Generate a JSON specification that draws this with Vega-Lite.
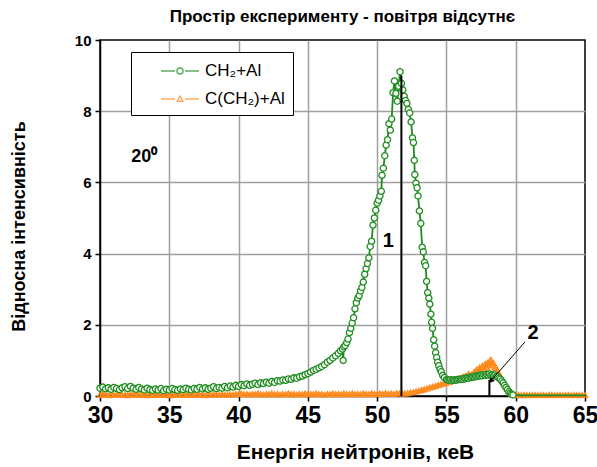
{
"$schema": "https://vega.github.io/schema/vega-lite/v6.json",
"width": 485, "height": 356,
"autosize": {"type": "none"},
"padding": {"left": 100, "top": 40, "right": 12, "bottom": 71},
"background": "white",
"title": {"text": "Простір експерименту - повітря відсутнє", "font": "Liberation Sans", "fontSize": 17, "fontWeight": "bold", "anchor": "middle", "offset": 7, "color": "black"},
"config": {"view": {"stroke": "black", "strokeWidth": 1.5}, "font": "Liberation Sans"},
"datasets": {
"g": [
{"x":30.0,"y":0.22},{"x":30.2,"y":0.25},{"x":30.4,"y":0.20},{"x":30.6,"y":0.23},{"x":30.8,"y":0.19},{"x":31.0,"y":0.24},{"x":31.2,"y":0.21},{"x":31.4,"y":0.18},{"x":31.6,"y":0.23},{"x":31.8,"y":0.26},
{"x":32.0,"y":0.21},{"x":32.2,"y":0.27},{"x":32.4,"y":0.22},{"x":32.6,"y":0.19},{"x":32.8,"y":0.24},{"x":33.0,"y":0.20},{"x":33.2,"y":0.17},{"x":33.4,"y":0.22},{"x":33.6,"y":0.18},{"x":33.8,"y":0.16},
{"x":34.0,"y":0.20},{"x":34.2,"y":0.17},{"x":34.4,"y":0.21},{"x":34.6,"y":0.15},{"x":34.8,"y":0.19},{"x":35.0,"y":0.17},{"x":35.2,"y":0.21},{"x":35.4,"y":0.18},{"x":35.6,"y":0.16},{"x":35.8,"y":0.20},
{"x":36.0,"y":0.18},{"x":36.2,"y":0.22},{"x":36.4,"y":0.19},{"x":36.6,"y":0.17},{"x":36.8,"y":0.21},{"x":37.0,"y":0.19},{"x":37.2,"y":0.24},{"x":37.4,"y":0.20},{"x":37.6,"y":0.23},{"x":37.8,"y":0.19},
{"x":38.0,"y":0.22},{"x":38.2,"y":0.26},{"x":38.4,"y":0.21},{"x":38.6,"y":0.24},{"x":38.8,"y":0.22},{"x":39.0,"y":0.27},{"x":39.2,"y":0.23},{"x":39.4,"y":0.28},{"x":39.6,"y":0.25},{"x":39.8,"y":0.30},
{"x":40.0,"y":0.27},{"x":40.2,"y":0.32},{"x":40.4,"y":0.29},{"x":40.6,"y":0.34},{"x":40.8,"y":0.30},{"x":41.0,"y":0.33},{"x":41.2,"y":0.36},{"x":41.4,"y":0.32},{"x":41.6,"y":0.37},{"x":41.8,"y":0.35},
{"x":42.0,"y":0.39},{"x":42.2,"y":0.36},{"x":42.4,"y":0.41},{"x":42.6,"y":0.38},{"x":42.8,"y":0.43},{"x":43.0,"y":0.42},{"x":43.2,"y":0.45},{"x":43.4,"y":0.44},{"x":43.6,"y":0.48},{"x":43.8,"y":0.47},
{"x":44.0,"y":0.51},{"x":44.2,"y":0.50},{"x":44.4,"y":0.54},{"x":44.6,"y":0.56},{"x":44.8,"y":0.60},{"x":45.0,"y":0.63},{"x":45.2,"y":0.67},{"x":45.4,"y":0.72},{"x":45.6,"y":0.75},{"x":45.8,"y":0.79},
{"x":46.0,"y":0.83},{"x":46.2,"y":0.88},{"x":46.4,"y":0.95},{"x":46.6,"y":1.00},{"x":46.8,"y":1.07},{"x":47.0,"y":1.13},{"x":47.2,"y":1.20},{"x":47.35,"y":1.27},{"x":47.5,"y":1.32},{"x":47.55,"y":1.00},
{"x":47.6,"y":1.38},{"x":47.7,"y":1.42},{"x":47.8,"y":1.50},{"x":47.9,"y":1.60},{"x":48.0,"y":1.78},{"x":48.1,"y":1.90},{"x":48.2,"y":2.05},{"x":48.3,"y":2.20},{"x":48.4,"y":2.45},{"x":48.5,"y":2.62},
{"x":48.6,"y":2.75},{"x":48.7,"y":2.82},{"x":48.8,"y":2.95},{"x":48.9,"y":3.05},{"x":49.0,"y":3.20},{"x":49.1,"y":3.42},{"x":49.2,"y":3.58},{"x":49.3,"y":3.72},{"x":49.4,"y":3.88},{"x":49.5,"y":4.20},
{"x":49.6,"y":4.35},{"x":49.7,"y":4.80},{"x":49.8,"y":5.00},{"x":49.9,"y":5.22},{"x":50.0,"y":5.42},{"x":50.1,"y":5.50},{"x":50.2,"y":5.62},{"x":50.3,"y":5.75},{"x":50.35,"y":6.20},{"x":50.45,"y":6.40},
{"x":50.55,"y":6.75},{"x":50.65,"y":7.05},{"x":50.75,"y":7.20},{"x":50.85,"y":7.65},{"x":50.95,"y":7.47},{"x":51.05,"y":7.78},{"x":51.15,"y":8.52},{"x":51.25,"y":8.85},{"x":51.35,"y":8.50},{"x":51.45,"y":8.28},
{"x":51.55,"y":8.70},{"x":51.65,"y":9.11},{"x":51.75,"y":8.78},{"x":51.85,"y":8.60},{"x":51.95,"y":8.42},{"x":52.05,"y":8.30},{"x":52.15,"y":8.22},{"x":52.25,"y":8.05},{"x":52.35,"y":7.95},{"x":52.45,"y":7.70},
{"x":52.55,"y":7.25},{"x":52.62,"y":7.12},{"x":52.68,"y":6.62},{"x":52.72,"y":6.22},{"x":52.8,"y":5.98},{"x":52.88,"y":5.85},{"x":52.95,"y":5.62},{"x":53.05,"y":5.20},{"x":53.15,"y":4.85},{"x":53.25,"y":4.18},
{"x":53.33,"y":4.05},{"x":53.42,"y":3.75},{"x":53.5,"y":3.66},{"x":53.57,"y":3.22},{"x":53.65,"y":2.90},{"x":53.73,"y":2.75},{"x":53.8,"y":2.58},{"x":53.88,"y":2.30},{"x":53.93,"y":2.07},{"x":54.0,"y":1.90},
{"x":54.08,"y":1.58},{"x":54.15,"y":1.40},{"x":54.22,"y":1.22},{"x":54.3,"y":1.08},{"x":54.37,"y":0.95},{"x":54.45,"y":0.85},{"x":54.54,"y":0.75},{"x":54.63,"y":0.68},{"x":54.73,"y":0.58},{"x":54.85,"y":0.52},
{"x":55.0,"y":0.46},{"x":55.1,"y":0.45},{"x":55.2,"y":0.44},{"x":55.3,"y":0.46},{"x":55.4,"y":0.43},{"x":55.5,"y":0.45},{"x":55.6,"y":0.44},{"x":55.7,"y":0.46},{"x":55.8,"y":0.45},{"x":55.9,"y":0.47},
{"x":56.0,"y":0.46},{"x":56.1,"y":0.48},{"x":56.2,"y":0.47},{"x":56.3,"y":0.50},{"x":56.4,"y":0.49},{"x":56.5,"y":0.51},{"x":56.6,"y":0.50},{"x":56.7,"y":0.53},{"x":56.8,"y":0.52},{"x":56.9,"y":0.54},
{"x":57.0,"y":0.53},{"x":57.1,"y":0.56},{"x":57.2,"y":0.55},{"x":57.3,"y":0.57},{"x":57.4,"y":0.56},{"x":57.5,"y":0.59},{"x":57.6,"y":0.57},{"x":57.7,"y":0.60},{"x":57.8,"y":0.58},{"x":57.9,"y":0.61},
{"x":58.0,"y":0.59},{"x":58.1,"y":0.62},{"x":58.2,"y":0.58},{"x":58.3,"y":0.60},{"x":58.4,"y":0.57},{"x":58.5,"y":0.59},{"x":58.6,"y":0.55},{"x":58.7,"y":0.54},{"x":58.8,"y":0.50},{"x":58.9,"y":0.47},
{"x":59.0,"y":0.42},{"x":59.1,"y":0.37},{"x":59.2,"y":0.30},{"x":59.3,"y":0.24},{"x":59.4,"y":0.18},{"x":59.5,"y":0.12},{"x":59.6,"y":0.08},{"x":59.7,"y":0.05},{"x":59.8,"y":0.03},
{"x":60.5,"y":0.02},{"x":61.5,"y":0.02},{"x":62.5,"y":0.02},{"x":63.5,"y":0.02},{"x":64.5,"y":0.02},{"x":65.0,"y":0.02}
],
"o": [
{"x":30.0,"y":0.03},{"x":30.2,"y":0.05},{"x":30.4,"y":0.04},{"x":30.6,"y":0.02},{"x":30.8,"y":0.05},{"x":31.0,"y":0.03},{"x":31.2,"y":0.04},{"x":31.4,"y":0.06},{"x":31.6,"y":0.03},{"x":31.8,"y":0.04},
{"x":32.0,"y":0.02},{"x":32.2,"y":0.05},{"x":32.4,"y":0.04},{"x":32.6,"y":0.03},{"x":32.8,"y":0.05},{"x":33.0,"y":0.03},{"x":33.2,"y":0.04},{"x":33.4,"y":0.02},{"x":33.6,"y":0.05},{"x":33.8,"y":0.03},
{"x":34.0,"y":0.04},{"x":34.2,"y":0.03},{"x":34.4,"y":0.05},{"x":34.6,"y":0.03},{"x":34.8,"y":0.04},{"x":35.0,"y":0.02},{"x":35.2,"y":0.04},{"x":35.4,"y":0.03},{"x":35.6,"y":0.05},{"x":35.8,"y":0.03},
{"x":36.0,"y":0.04},{"x":36.2,"y":0.03},{"x":36.4,"y":0.05},{"x":36.6,"y":0.04},{"x":36.8,"y":0.03},{"x":37.0,"y":0.05},{"x":37.2,"y":0.03},{"x":37.4,"y":0.04},{"x":37.6,"y":0.02},{"x":37.8,"y":0.04},
{"x":38.0,"y":0.03},{"x":38.2,"y":0.05},{"x":38.4,"y":0.04},{"x":38.6,"y":0.03},{"x":38.8,"y":0.05},{"x":39.0,"y":0.04},{"x":39.2,"y":0.03},{"x":39.4,"y":0.05},{"x":39.6,"y":0.04},{"x":39.8,"y":0.06},
{"x":40.0,"y":0.05},{"x":40.2,"y":0.07},{"x":40.4,"y":0.05},{"x":40.6,"y":0.06},{"x":40.8,"y":0.04},{"x":41.0,"y":0.06},{"x":41.2,"y":0.05},{"x":41.4,"y":0.07},{"x":41.6,"y":0.05},{"x":41.8,"y":0.04},
{"x":42.0,"y":0.06},{"x":42.2,"y":0.05},{"x":42.4,"y":0.07},{"x":42.6,"y":0.05},{"x":42.8,"y":0.06},{"x":43.0,"y":0.04},{"x":43.2,"y":0.06},{"x":43.4,"y":0.05},{"x":43.6,"y":0.07},{"x":43.8,"y":0.05},
{"x":44.0,"y":0.06},{"x":44.2,"y":0.04},{"x":44.4,"y":0.06},{"x":44.6,"y":0.05},{"x":44.8,"y":0.07},{"x":45.0,"y":0.05},{"x":45.2,"y":0.06},{"x":45.4,"y":0.05},{"x":45.6,"y":0.07},{"x":45.8,"y":0.05},
{"x":46.0,"y":0.06},{"x":46.2,"y":0.04},{"x":46.4,"y":0.06},{"x":46.6,"y":0.05},{"x":46.8,"y":0.07},{"x":47.0,"y":0.05},{"x":47.2,"y":0.06},{"x":47.4,"y":0.05},{"x":47.6,"y":0.07},{"x":47.8,"y":0.06},
{"x":48.0,"y":0.05},{"x":48.2,"y":0.07},{"x":48.4,"y":0.05},{"x":48.6,"y":0.06},{"x":48.8,"y":0.05},{"x":49.0,"y":0.07},{"x":49.2,"y":0.06},{"x":49.4,"y":0.05},{"x":49.6,"y":0.07},{"x":49.8,"y":0.06},
{"x":50.0,"y":0.05},{"x":50.2,"y":0.07},{"x":50.4,"y":0.06},{"x":50.6,"y":0.08},{"x":50.8,"y":0.06},{"x":51.0,"y":0.07},{"x":51.2,"y":0.06},{"x":51.4,"y":0.08},{"x":51.6,"y":0.07},{"x":51.8,"y":0.08},
{"x":52.0,"y":0.07},{"x":52.2,"y":0.08},{"x":52.4,"y":0.10},{"x":52.6,"y":0.11},{"x":52.8,"y":0.13},{"x":53.0,"y":0.15},{"x":53.2,"y":0.17},{"x":53.4,"y":0.19},{"x":53.6,"y":0.21},{"x":53.8,"y":0.24},
{"x":54.0,"y":0.26},{"x":54.2,"y":0.28},{"x":54.4,"y":0.31},{"x":54.6,"y":0.33},{"x":54.8,"y":0.35},{"x":55.0,"y":0.37},{"x":55.2,"y":0.40},{"x":55.4,"y":0.42},{"x":55.6,"y":0.45},{"x":55.8,"y":0.48},
{"x":56.0,"y":0.50},{"x":56.2,"y":0.54},{"x":56.4,"y":0.57},{"x":56.6,"y":0.62},{"x":56.8,"y":0.60},{"x":57.0,"y":0.68},{"x":57.1,"y":0.64},{"x":57.2,"y":0.75},{"x":57.3,"y":0.70},{"x":57.4,"y":0.80},
{"x":57.5,"y":0.72},{"x":57.6,"y":0.85},{"x":57.7,"y":0.76},{"x":57.8,"y":0.90},{"x":57.9,"y":0.80},{"x":58.0,"y":0.95},{"x":58.1,"y":0.86},{"x":58.2,"y":1.02},{"x":58.3,"y":0.88},{"x":58.4,"y":0.92},
{"x":58.5,"y":0.80},{"x":58.6,"y":0.78},{"x":58.7,"y":0.70},{"x":58.8,"y":0.62},{"x":58.9,"y":0.55},{"x":59.0,"y":0.47},{"x":59.1,"y":0.40},{"x":59.2,"y":0.33},{"x":59.3,"y":0.26},{"x":59.4,"y":0.20},
{"x":59.5,"y":0.15},{"x":59.6,"y":0.10},{"x":59.7,"y":0.07},{"x":59.8,"y":0.05},{"x":60.0,"y":0.03},{"x":60.2,"y":0.03},{"x":60.4,"y":0.02},{"x":60.6,"y":0.03},{"x":60.8,"y":0.03},{"x":61.0,"y":0.02},
{"x":61.2,"y":0.03},{"x":61.4,"y":0.03},{"x":61.6,"y":0.02},{"x":61.8,"y":0.03},{"x":62.0,"y":0.03},{"x":62.2,"y":0.02},{"x":62.4,"y":0.03},{"x":62.6,"y":0.03},{"x":62.8,"y":0.02},{"x":63.0,"y":0.03},
{"x":63.2,"y":0.03},{"x":63.4,"y":0.02},{"x":63.6,"y":0.03},{"x":63.8,"y":0.03},{"x":64.0,"y":0.02},{"x":64.2,"y":0.03},{"x":64.4,"y":0.03},{"x":64.6,"y":0.02},{"x":64.8,"y":0.03},{"x":65.0,"y":0.03}
]
},
"layer": [
{
"data": {"name": "o"},
"mark": {"type": "line", "color": "#ff8a1c", "strokeWidth": 1.5},
"encoding": {
"x": {"field": "x", "type": "quantitative", "scale": {"domain": [30, 65], "nice": false, "zero": false},
 "axis": {"values": [30,32.5,35,37.5,40,42.5,45,47.5,50,52.5,55,57.5,60,62.5,65],
  "labelExpr": "datum.value % 5 === 0 ? datum.label : ''", "labelFlush": false, "labelOverlap": false,
  "title": "Енергія нейтронів, кеВ", "labelFont": "Liberation Sans", "labelFontSize": 23, "labelFontWeight": "bold", "labelColor": "black",
  "titleFont": "Liberation Sans", "titleFontSize": 21, "titleFontWeight": "bold", "titleColor": "black", "titlePadding": 14, "titleX": 255,
  "tickColor": "black", "tickSize": 5, "tickWidth": 1.5, "domainColor": "black", "domainWidth": 1.5, "labelPadding": 3,
  "grid": true, "gridColor": "#a0a0a0", "gridWidth": 1.5,
  "gridOpacity": {"condition": {"test": "datum.value % 5 !== 0 || datum.value === 30 || datum.value === 65", "value": 0}, "value": 1}}},
"y": {"field": "y", "type": "quantitative", "scale": {"domain": [0, 10], "nice": false},
 "axis": {"values": [0,1,2,3,4,5,6,7,8,9,10],
  "labelExpr": "datum.value % 2 === 0 ? datum.label : ''", "labelFlush": false,
  "title": "Відносна інтенсивність", "labelFont": "Liberation Sans", "labelFontSize": 15, "labelFontWeight": "bold", "labelColor": "black",
  "titleFont": "Liberation Sans", "titleFontSize": 18, "titleFontWeight": "bold", "titleColor": "black", "titlePadding": 46, "titleY": 186,
  "tickColor": "black", "tickSize": 5, "tickWidth": 1.5, "domainColor": "black", "domainWidth": 1.5, "labelPadding": 4,
  "grid": true, "gridColor": "#a0a0a0", "gridWidth": 1.5,
  "gridOpacity": {"condition": {"test": "datum.value % 2 !== 0 || datum.value === 0 || datum.value === 10", "value": 0}, "value": 1}}}
}
},
{
"data": {"name": "o"},
"mark": {"type": "point", "shape": "triangle-up", "size": 30, "filled": false, "stroke": "#ff8a1c", "strokeWidth": 1.3, "opacity": 1},
"encoding": {"x": {"field": "x", "type": "quantitative"}, "y": {"field": "y", "type": "quantitative"}}
},
{
"data": {"name": "g"},
"mark": {"type": "line", "color": "#1e8c1e", "strokeWidth": 1.8},
"encoding": {"x": {"field": "x", "type": "quantitative"}, "y": {"field": "y", "type": "quantitative"}}
},
{
"data": {"name": "g"},
"transform": [{"filter": "datum.x <= 60"}],
"mark": {"type": "point", "shape": "circle", "size": 38, "filled": true, "fill": "white", "stroke": "#1e8c1e", "strokeWidth": 1.3, "opacity": 1},
"encoding": {"x": {"field": "x", "type": "quantitative"}, "y": {"field": "y", "type": "quantitative"}}
},
{
"data": {"values": [{"x": 51.75, "y": 0, "y2": 9.0}, {"x": 58.1, "y": 0, "y2": 0.45}]},
"mark": {"type": "rule", "color": "black", "strokeWidth": 2},
"encoding": {"x": {"field": "x", "type": "quantitative"}, "y": {"field": "y", "type": "quantitative"}, "y2": {"field": "y2"}}
},
{
"data": {"values": [{"x": 60.67, "y": 1.52, "x2": 58.2, "y2": 0.42}]},
"mark": {"type": "rule", "color": "black", "strokeWidth": 1},
"encoding": {"x": {"field": "x", "type": "quantitative"}, "y": {"field": "y", "type": "quantitative"}, "x2": {"field": "x2"}, "y2": {"field": "y2"}}
},
{
"data": {"values": [{"x": 58.2, "y": 0.42}]},
"mark": {"type": "point", "shape": "triangle-up", "size": 40, "filled": true, "color": "black", "angle": 221, "opacity": 1},
"encoding": {"x": {"field": "x", "type": "quantitative"}, "y": {"field": "y", "type": "quantitative"}}
},
{
"data": {"values": [{"x": 50.8, "y": 4.35, "t": "1"}, {"x": 61.25, "y": 1.77, "t": "2"}]},
"mark": {"type": "text", "font": "Liberation Sans", "fontSize": 20, "fontWeight": "bold", "color": "black", "align": "center", "baseline": "middle"},
"encoding": {"x": {"field": "x", "type": "quantitative"}, "y": {"field": "y", "type": "quantitative"}, "text": {"field": "t"}}
},
{
"data": {"values": [{"x": 33.2, "y": 6.72, "t": "20⁰"}]},
"mark": {"type": "text", "font": "Liberation Sans", "fontSize": 18, "fontWeight": "bold", "color": "black", "align": "center", "baseline": "middle"},
"encoding": {"x": {"field": "x", "type": "quantitative"}, "y": {"field": "y", "type": "quantitative"}, "text": {"field": "t"}}
},
{
"data": {"values": [{"s": "CH₂+Al"}]},
"transform": [{"filter": "false"}],
"mark": {"type": "point", "filled": false, "strokeWidth": 1.5},
"encoding": {
"color": {"field": "s", "type": "nominal", "scale": {"domain": ["CH₂+Al", "C(CH₂)+Al"], "range": ["#1e8c1e", "#ff8a1c"]},
 "legend": {"orient": "none", "legendX": 31, "legendY": 12, "title": null, "strokeColor": "black", "fillColor": "white", "padding": 8, "symbolOffset": 30, "symbolSize": 400, "symbolStrokeWidth": 1.5, "labelFontSize": 17, "labelFont": "Liberation Sans", "labelColor": "black", "rowPadding": 9, "labelOffset": 14}},
"shape": {"field": "s", "type": "nominal", "scale": {"domain": ["CH₂+Al", "C(CH₂)+Al"], "range": ["M-1.9,0L-0.5,0M0.5,0L1.9,0M0.3,0A0.3,0.3,0,1,1,-0.3,0A0.3,0.3,0,1,1,0.3,0", "M-1.9,0L-0.5,0M0.5,0L1.9,0M0,-0.28L0.28,0.22L-0.28,0.22Z"]},
 "legend": {"orient": "none", "legendX": 31, "legendY": 12, "title": null, "strokeColor": "black", "fillColor": "white", "padding": 8, "symbolOffset": 30, "symbolSize": 400, "symbolStrokeWidth": 1.5, "labelFontSize": 17, "labelFont": "Liberation Sans", "labelColor": "black", "rowPadding": 9, "labelOffset": 14}}
}
}
]
}
